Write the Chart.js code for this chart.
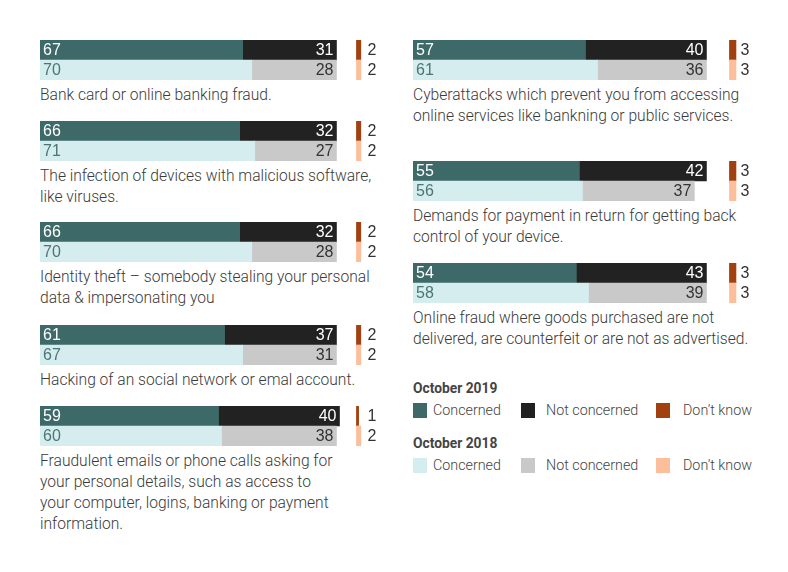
<!DOCTYPE html>
<html>
<head>
<meta charset="utf-8">
<script src="https://cdn.jsdelivr.net/npm/chart.js@4.4.1/dist/chart.umd.min.js"></script>
<style>
  body { margin: 0; background: #fff; width: 788px; height: 572px; position: relative; overflow: hidden; }
  .grp { position: absolute; }
  .grp canvas { display: block; }
  .cap { font-family: Roboto, "Liberation Sans", sans-serif; font-weight: 300; font-size: 15.6px; line-height: 21px; color: #3a3a3a; margin-top: 5px; white-space: nowrap; }
  .legend { position: absolute; left: 413px; top: 378px; font-family: Roboto, sans-serif; color: #444; white-space: nowrap; }
  .legend .ttl { font-weight: 700; font-size: 13.8px; height: 20px; line-height: 20px; }
  .legend .row { position: relative; height: 35px; font-size: 14.3px; font-weight: 300; }
  .legend .sw { position: absolute; top: 5px; width: 14px; height: 15px; }
  .legend .tx { position: absolute; top: 3px; line-height: 18px; }
</style>
</head>
<body>
<div id="groups"></div>
<div class="legend" id="legend"></div>
<script>
// values in percent, October 2019 and October 2018
const topics = [
  "Bank card or online banking fraud.",
  "The infection of devices with malicious software,<br>like viruses.",
  "Identity theft – somebody stealing your personal<br>data &amp; impersonating you",
  "Hacking of an social network or emal account.",
  "Fraudulent emails or phone calls asking for<br>your personal details, such as access to<br>your computer, logins, banking or payment<br>information.",
  "Cyberattacks which prevent you from accessing<br>online services like bankning or public services.",
  "Demands for payment in return for getting back<br>control of your device.",
  "Online fraud where goods purchased are not<br>delivered, are counterfeit or are not as advertised."
];
const concerned2019    = [67, 66, 66, 61, 59, 57, 55, 54];
const notConcerned2019 = [31, 32, 32, 37, 40, 40, 42, 43];
const dontKnow2019     = [2, 2, 2, 2, 1, 3, 3, 3];
const concerned2018    = [70, 71, 70, 67, 60, 61, 56, 58];
const notConcerned2018 = [28, 27, 28, 31, 38, 36, 37, 39];
const dontKnow2018     = [2, 2, 2, 2, 2, 3, 3, 3];
const years = ["October 2019", "October 2018"];

// layout
const slots = [
  [40, 40], [40, 121], [40, 222], [40, 325], [40, 406],
  [413, 40], [413, 161], [413, 263]
];
const DK_BASE = 104.6;   // where the "don't know" marks start on the x scale
const DK_SCALE = 0.72;

const colors = {
  c:  ['#3d6968', '#d6edef'],
  nc: ['#222222', '#c9c9c9'],
  dk: ['#a2410f', '#fdbf9b'],
  cTxt:  ['#ffffff', '#4a7674'],
  ncTxt: ['#ffffff', '#333333']
};

const labelPlugin = {
  id: 'vals',
  afterDatasetsDraw(chart) {
    const ctx = chart.ctx;
    ctx.save();
    ctx.font = '16px "Liberation Sans", Arial, sans-serif';
    ctx.textBaseline = 'middle';
    chart.data.datasets.forEach((ds, di) => {
      chart.getDatasetMeta(di).data.forEach((bar, i) => {
        const v = ds.raw[i];
        const left = Math.min(bar.x, bar.base);
        const right = Math.max(bar.x, bar.base);
        if (ds.kind === 'c') {
          ctx.fillStyle = colors.cTxt[i];
          ctx.textAlign = 'left';
          ctx.fillText(v, left + 3, bar.y + 1);
        } else if (ds.kind === 'nc') {
          ctx.fillStyle = colors.ncTxt[i];
          ctx.textAlign = 'right';
          ctx.fillText(v, right - 3, bar.y + 1);
        } else {
          ctx.fillStyle = '#333';
          ctx.textAlign = 'left';
          ctx.fillText(v, left + 11, bar.y + 1);
        }
      });
    });
    ctx.restore();
  }
};

const wrap = document.getElementById('groups');
topics.forEach((t, k) => {
  const g = document.createElement('div');
  g.className = 'grp';
  g.style.left = slots[k][0] + 'px';
  g.style.top = slots[k][1] + 'px';
  const cv = document.createElement('canvas');
  cv.width = 360; cv.height = 40;
  cv.style.width = '360px'; cv.style.height = '40px';
  g.appendChild(cv);
  const cap = document.createElement('div');
  cap.className = 'cap';
  cap.innerHTML = t;
  g.appendChild(cap);
  wrap.appendChild(g);

  const c = [concerned2019[k], concerned2018[k]];
  const nc = [notConcerned2019[k], notConcerned2018[k]];
  const dk = [dontKnow2019[k], dontKnow2018[k]];

  new Chart(cv, {
    type: 'bar',
    data: {
      labels: years,
      datasets: [
        { kind: 'c', raw: c, data: c.map(v => [0, v]), backgroundColor: colors.c },
        { kind: 'nc', raw: nc, data: nc.map((v, i) => [c[i], c[i] + v]), backgroundColor: colors.nc },
        { kind: 'dk', raw: dk, data: dk.map(v => [DK_BASE, DK_BASE + v * DK_SCALE]), backgroundColor: colors.dk }
      ]
    },
    options: {
      indexAxis: 'y',
      responsive: false,
      animation: false,
      layout: { padding: 0 },
      datasets: { bar: { barPercentage: 1, categoryPercentage: 1, borderWidth: 0 } },
      scales: {
        x: { display: false, min: 0, max: 119 },
        y: { display: false, stacked: true }
      },
      plugins: { legend: { display: false }, tooltip: { enabled: false } }
    },
    plugins: [labelPlugin]
  });
});

// legend
const legendItems = ["Concerned", "Not concerned", "Don’t know"];
const swX = [0, 108, 243];
const txX = [20, 133, 270];
const lg = document.getElementById('legend');
years.forEach((y, yi) => {
  let html = '<div class="ttl">' + y + '</div><div class="row">';
  legendItems.forEach((name, j) => {
    const col = [colors.c, colors.nc, colors.dk][j][yi];
    html += '<div class="sw" style="left:' + swX[j] + 'px;background:' + col + '"></div>';
    html += '<div class="tx" style="left:' + txX[j] + 'px">' + name + '</div>';
  });
  html += '</div>';
  lg.insertAdjacentHTML('beforeend', html);
});
</script>
</body>
</html>
